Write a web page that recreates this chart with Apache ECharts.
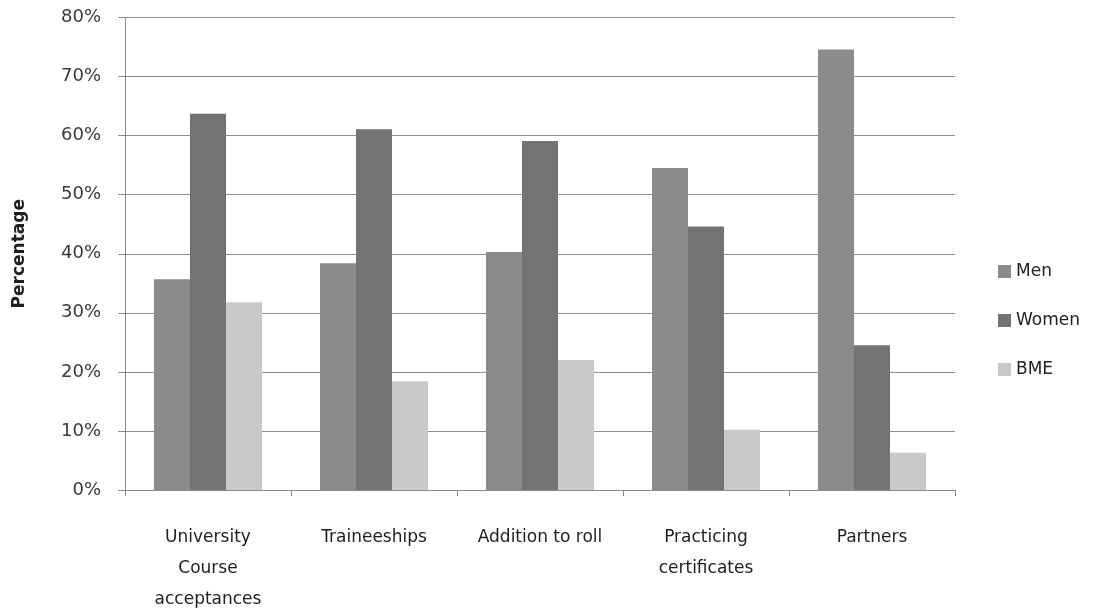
<!DOCTYPE html>
<html>
<head>
<meta charset="utf-8">
<script src="https://cdn.jsdelivr.net/npm/echarts@6/dist/echarts.min.js"></script>
<style>
  html, body { margin: 0; padding: 0; background: #fff; }
  #chart { width: 1110px; height: 614px; }
</style>
</head>
<body>
<div id="chart"></div>
<script>
// Categories and percentages per group
const categories = [
  'University\nCourse\nacceptances',
  'Traineeships',
  'Addition to roll',
  'Practicing\ncertificates',
  'Partners'
];
const men   = [35.7, 38.4, 40.3, 54.5, 74.6];
const women = [63.7, 61.1, 59.1, 44.6, 24.5];
const bme   = [31.8, 18.4, 22.0, 10.2, 6.3];
const yTicks = [0, 10, 20, 30, 40, 50, 60, 70, 80];

const FONT = 'DejaVu Sans';
const chart = echarts.init(document.getElementById('chart'), null, { renderer: 'canvas' });

function barSeries(name, data, color) {
  return {
    name: name,
    type: 'bar',
    data: data,
    barWidth: 36,
    barGap: '0%',
    itemStyle: { color: color },
    emphasis: { disabled: true }
  };
}

chart.setOption({
  animation: false,
  backgroundColor: '#ffffff',
  grid: {
    left: 125, right: 155, top: 17.5, bottom: 124,
    containLabel: false,
    outerBoundsMode: 'none'
  },
  legend: {
    orient: 'vertical',
    left: 993,
    top: 258,
    itemWidth: 13,
    itemHeight: 13,
    itemGap: 32,
    icon: 'rect',
    textStyle: { fontFamily: FONT, fontSize: 17, color: '#222' },
    data: ['Men', 'Women', 'BME']
  },
  xAxis: {
    type: 'category',
    data: categories,
    axisLine: { lineStyle: { color: '#8a8a8a', width: 1 } },
    axisTick: { show: true, length: 6, lineStyle: { color: '#8a8a8a' } },
    axisLabel: {
      interval: 0,
      margin: 32,
      fontFamily: FONT,
      fontSize: 17,
      lineHeight: 31,
      color: '#1e1e1e'
    }
  },
  yAxis: {
    type: 'value',
    min: yTicks[0],
    max: yTicks[yTicks.length - 1],
    interval: 10,
    name: 'Percentage',
    nameLocation: 'middle',
    nameGap: 97,
    nameRotate: 90,
    nameTextStyle: { fontFamily: FONT, fontSize: 17, fontWeight: 'bold', color: '#1e1e1e' },
    axisLine: { show: true, lineStyle: { color: '#8a8a8a', width: 1 } },
    axisTick: { show: true, length: 7, lineStyle: { color: '#8a8a8a' } },
    axisLabel: {
      margin: 24,
      fontFamily: FONT,
      fontSize: 18,
      color: '#3a3a3a',
      formatter: v => v + '%'
    },
    splitLine: { show: true, lineStyle: { color: '#8f8f8f', width: 1 } }
  },
  series: [
    barSeries('Men', men, '#8b8b8b'),
    barSeries('Women', women, '#737373'),
    barSeries('BME', bme, '#c9c9c9')
  ]
});
</script>
</body>
</html>
